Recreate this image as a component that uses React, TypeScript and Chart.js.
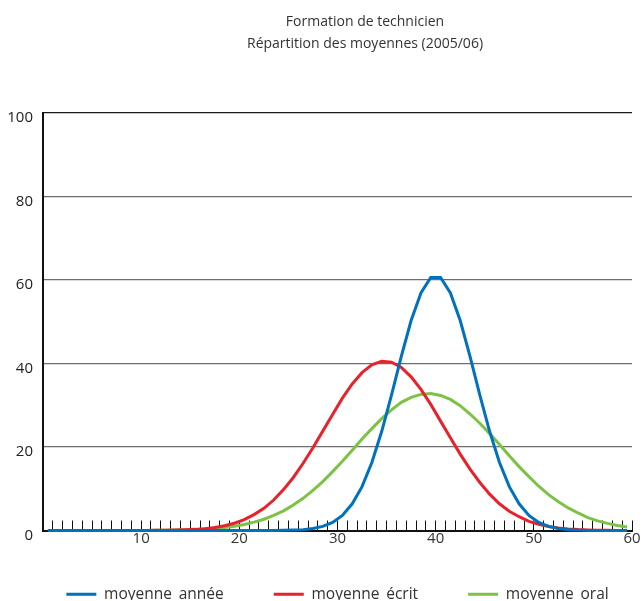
import React, { useEffect, useRef } from "react";
import { Chart, registerables } from "chart.js";

Chart.register(...registerables);

const titleLines = ["Formation de technicien", "Répartition des moyennes (2005/06)"];

const bins = [
  0.5, 1.5, 2.5, 3.5, 4.5, 5.5, 6.5, 7.5, 8.5, 9.5,
  10.5, 11.5, 12.5, 13.5, 14.5, 15.5, 16.5, 17.5, 18.5, 19.5,
  20.5, 21.5, 22.5, 23.5, 24.5, 25.5, 26.5, 27.5, 28.5, 29.5,
  30.5, 31.5, 32.5, 33.5, 34.5, 35.5, 36.5, 37.5, 38.5, 39.5,
  40.5, 41.5, 42.5, 43.5, 44.5, 45.5, 46.5, 47.5, 48.5, 49.5,
  50.5, 51.5, 52.5, 53.5, 54.5, 55.5, 56.5, 57.5, 58.5, 59.5,
];

const moyenneAnnee = [
  0, 0, 0, 0, 0, 0, 0, 0, 0, 0,
  0, 0, 0, 0, 0, 0, 0, 0, 0, 0,
  0, 0, 0, 0.01, 0.03, 0.09, 0.2, 0.46, 0.98, 1.95,
  3.6, 6.4, 10.5, 16.3, 23.7, 32.4, 41.7, 50.3, 56.9, 60.6,
  60.6, 56.9, 50.3, 41.7, 32.4, 23.7, 16.3, 10.5, 6.4, 3.6,
  1.95, 0.98, 0.46, 0.2, 0.09, 0.03, 0.01, 0, 0, 0,
];

const moyenneEcrit = [
  0, 0, 0, 0, 0, 0, 0, 0, 0, 0,
  0.02, 0.03, 0.05, 0.09, 0.16, 0.27, 0.45, 0.73, 1.14, 1.75,
  2.6, 3.8, 5.3, 7.3, 9.8, 12.7, 16.1, 19.8, 23.8, 27.8,
  31.7, 35.1, 37.8, 39.7, 40.55, 40.3, 39.05, 36.8, 33.8, 30.2,
  26.2, 22.2, 18.3, 14.7, 11.5, 8.7, 6.4, 4.6, 3.3, 2.2,
  1.5, 0.95, 0.6, 0.37, 0.22, 0.13, 0.07, 0.04, 0.02, 0.01,
];

const moyenneOral = [
  0, 0, 0, 0, 0, 0, 0, 0, 0, 0,
  0.02, 0.04, 0.06, 0.09, 0.14, 0.22, 0.33, 0.49, 0.72, 1.0,
  1.44, 2.0, 2.7, 3.6, 4.7, 6.1, 7.7, 9.6, 11.7, 14.1,
  16.6, 19.2, 21.9, 24.4, 26.8, 28.9, 30.7, 31.9, 32.6, 32.8,
  32.35, 31.4, 29.9, 27.9, 25.7, 23.2, 20.6, 17.9, 15.3, 12.9,
  10.6, 8.6, 6.9, 5.4, 4.2, 3.1, 2.3, 1.7, 1.2, 0.86,
];

const seriesNames = ["moyenne_année", "moyenne_écrit", "moyenne_oral"];
const seriesColors = ["#0071BC", "#E8222B", "#7DC244"];
const xTickLabels = [10, 20, 30, 40, 50, 60];
const yTickLabels = [0, 20, 40, 60, 80, 100];

const FONT = "'Open Sans', 'Noto Sans', sans-serif";
const LEGEND_PAD = 50;
const LEGEND_LIFT = 12;
const LEGEND_WIDEN = 150;

// Keeps the legend on one row with wide spacing and lifts it a little.
const legendTweak = {
  id: "legendTweak",
  beforeLayout(chart: any) {
    const lg = chart.legend;
    if (!lg || lg.__patched) return;
    const orig = lg.fit.bind(lg);
    lg.fit = function () {
      const mw = this.maxWidth;
      this.maxWidth = mw + 2 * LEGEND_WIDEN;
      orig();
      this.maxWidth = mw;
      this.width = Math.min(this.width, mw);
      this.height = this.height - LEGEND_LIFT;
    };
    lg.__patched = true;
  },
  afterLayout(chart: any) {
    const lg = chart.legend;
    if (!lg) return;
    lg.top -= LEGEND_LIFT;
    lg.bottom -= LEGEND_LIFT;
    lg.left -= LEGEND_WIDEN;
    lg.right += LEGEND_WIDEN;
  },
};

export default function App() {
  const canvasRef = useRef<HTMLCanvasElement | null>(null);

  useEffect(() => {
    const canvas = canvasRef.current;
    if (!canvas) return;
    const allSeries = [moyenneAnnee, moyenneEcrit, moyenneOral];
    const chart = new Chart(canvas, {
      type: "line",
      data: {
        datasets: allSeries.map((vals, si) => ({
          label: seriesNames[si],
          data: bins.map((x, i) => ({ x, y: vals[i] })),
          borderColor: seriesColors[si],
          backgroundColor: seriesColors[si],
          borderWidth: 3,
          pointRadius: 0,
          tension: 0,
          fill: false,
          clip: false as any,
        })),
      },
      options: {
        animation: false,
        responsive: false,
        devicePixelRatio: 1,
        layout: { padding: 0 },
        plugins: {
          title: {
            display: true,
            text: titleLines,
            color: "#333",
            font: { family: FONT, size: 14, weight: "normal", lineHeight: "22px" },
            padding: { top: 11, bottom: 58 },
          },
          legend: {
            position: "bottom",
            fullSize: false,
            labels: {
              color: "#333",
              font: { family: FONT, size: 15.5 },
              boxWidth: 30,
              boxHeight: 3,
              padding: LEGEND_PAD,
              generateLabels: (ch: any) =>
                Chart.defaults.plugins.legend.labels
                  .generateLabels(ch)
                  .map((l: any) => ({ ...l, lineWidth: 0, fillStyle: l.strokeStyle })),
            },
          },
          tooltip: { enabled: false },
        },
        scales: {
          x: {
            type: "linear",
            min: 0,
            max: 60,
            grid: {
              display: true,
              drawOnChartArea: false,
              drawTicks: true,
              tickLength: -10,
              tickColor: "#111",
              tickWidth: 1,
            },
            border: { display: true, color: "#111", width: 2 },
            ticks: {
              stepSize: 1,
              autoSkip: false,
              maxRotation: 0,
              padding: 9,
              color: "#333",
              font: { family: FONT, size: 15 },
              callback: (v: any) => (xTickLabels.includes(Number(v)) ? String(v) : ""),
            },
            afterFit: (s: any) => {
              s.height = 18;
            },
          },
          y: {
            type: "linear",
            min: 0,
            max: 100,
            position: "left",
            grid: {
              drawTicks: false,
              color: (c: any) =>
                c.tick.value === 0 ? "rgba(0,0,0,0)" : c.tick.value === 100 ? "#1a1a1a" : "#6e6e6e",
              lineWidth: 1.3,
            },
            border: { display: true, color: "#111", width: 2 },
            ticks: {
              stepSize: 20,
              padding: 10,
              labelOffset: 5,
              color: "#222",
              font: { family: FONT, size: 15 },
              callback: (v: any) => (yTickLabels.includes(Number(v)) ? String(v) : ""),
            },
            afterFit: (s: any) => {
              s.width = 43;
            },
          },
          yRight: {
            type: "linear",
            position: "right",
            display: true,
            grid: { display: false },
            border: { display: false },
            ticks: { display: false },
            afterFit: (s: any) => {
              s.width = 98;
            },
          },
        },
      } as any,
      plugins: [legendTweak],
    });
    return () => chart.destroy();
  }, []);

  return (
    <div
      style={{
        position: "fixed",
        left: 0,
        top: 0,
        width: 644,
        height: 601,
        overflow: "hidden",
        background: "#fff",
      }}
    >
      <canvas
        ref={canvasRef}
        width={730}
        height={612}
        style={{ display: "block", width: 730, height: 612 }}
      />
    </div>
  );
}
